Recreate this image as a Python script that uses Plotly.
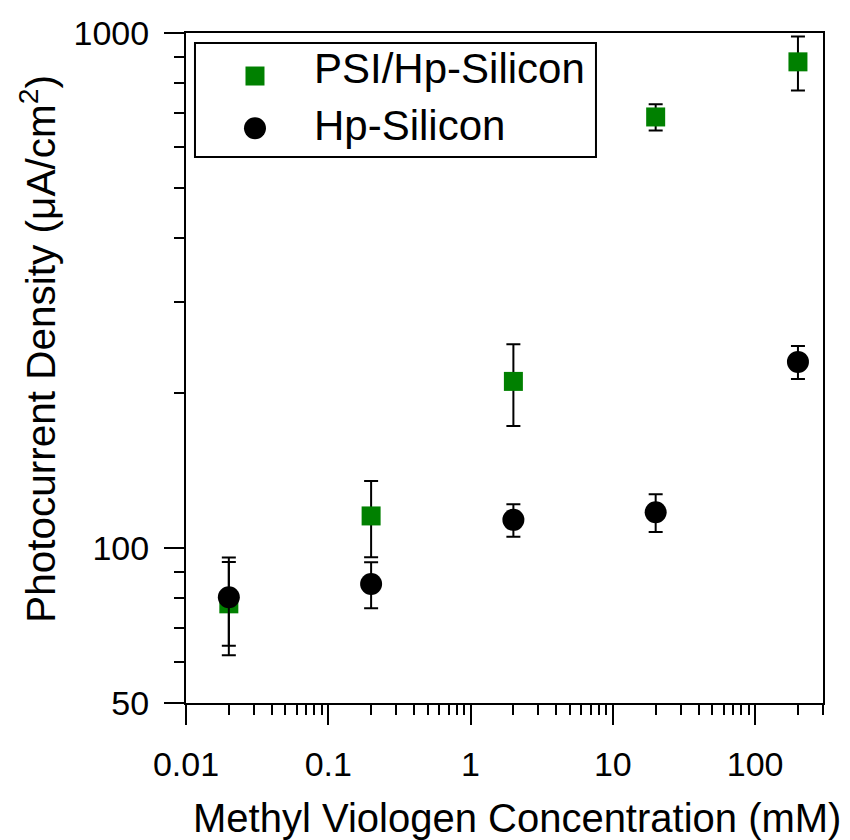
import plotly.graph_objects as go

# Methyl viologen concentration (mM)
concentration = [0.02, 0.2, 2, 20, 200]

# Photocurrent density (uA/cm^2) and standard deviations
psi_current = [77.9, 115.4, 210.6, 687, 879]
psi_error = [16, 19.5, 38, 40, 106]
hp_current = [80.2, 85.1, 113.4, 117.3, 229.8]
hp_error = [15.6, 8.7, 8.2, 9.9, 17]

series_names = ["PSI/Hp-Silicon", "Hp-Silicon"]

x_major = [0.01, 0.1, 1, 10, 100]
x_major_text = ["0.01", "0.1", "1", "10", "100"]
x_minor = [m * d for d in (0.01, 0.1, 1, 10) for m in range(2, 10)] + [200, 300]
y_major = [50, 100, 1000]
y_major_text = ["50", "100", "1000"]
y_minor = [60, 70, 80, 90] + [m * 100 for m in range(2, 10)]

FONT = "Liberation Sans, Arial, sans-serif"
GREEN = "#008000"

fig = go.Figure()

fig.add_trace(go.Scatter(
    x=concentration, y=psi_current, mode="markers", name=series_names[0],
    marker=dict(symbol="square", size=19, color=GREEN),
    error_y=dict(type="data", array=psi_error, color="black", thickness=2, width=7),
    showlegend=False,
))
fig.add_trace(go.Scatter(
    x=concentration, y=hp_current, mode="markers", name=series_names[1],
    marker=dict(symbol="circle", size=22, color="black"),
    error_y=dict(type="data", array=hp_error, color="black", thickness=2, width=7),
    showlegend=False,
))

# Legend keys on an overlay axis spanning the plot area in unit coordinates
fig.add_trace(go.Scatter(
    x=[0.1083], y=[0.9358], mode="markers", xaxis="x2", yaxis="y2",
    marker=dict(symbol="square", size=19, color=GREEN), showlegend=False, hoverinfo="skip",
))
fig.add_trace(go.Scatter(
    x=[0.1083], y=[0.8578], mode="markers", xaxis="x2", yaxis="y2",
    marker=dict(symbol="circle", size=22, color="black"), showlegend=False, hoverinfo="skip",
))

fig.add_shape(type="rect", xref="paper", yref="paper", x0=0.0141, x1=0.6436, y0=0.815, y1=0.985,
              line=dict(color="black", width=2), fillcolor="rgba(0,0,0,0)")
for name, yy in zip(series_names, [0.947, 0.8624]):
    fig.add_annotation(text=name, xref="paper", yref="paper", x=0.198, y=yy,
                       xanchor="left", yanchor="middle", showarrow=False,
                       font=dict(family=FONT, size=42, color="black"))

# Axis titles
fig.add_annotation(text="Methyl Viologen Concentration (mM)", xref="paper", yref="paper",
                   x=0.5204, y=-0.172, xanchor="center", yanchor="middle", showarrow=False,
                   font=dict(family=FONT, size=40, color="black"))
fig.add_annotation(text="Photocurrent Density (\u03bcA/cm<sup>2</sup>)", xref="paper", yref="paper",
                   x=-0.2334, y=0.5291, xanchor="center", yanchor="middle", showarrow=False,
                   textangle=-90, font=dict(family=FONT, size=40.5, color="black"))

axis_common = dict(
    showgrid=False, zeroline=False, showline=True, linecolor="black", linewidth=2,
    mirror=True, ticks="outside", ticklen=20, tickwidth=2, tickcolor="black",
    tickfont=dict(family=FONT, size=34, color="black"),
)

fig.update_layout(
    width=850, height=840,
    margin=dict(l=186, r=27, t=33, b=137),
    paper_bgcolor="white", plot_bgcolor="white",
    xaxis=dict(type="log", range=[-2, 2.4771], tickmode="array", tickvals=x_major,
               ticktext=x_major_text, ticklabelstandoff=10,
               minor=dict(tickmode="array", tickvals=x_minor, ticks="outside", ticklen=10,
                          tickwidth=2, tickcolor="black"),
               **axis_common),
    yaxis=dict(type="log", range=[1.69897, 3], tickmode="array", tickvals=y_major,
               ticktext=y_major_text, ticklabelstandoff=8,
               minor=dict(tickmode="array", tickvals=y_minor, ticks="outside", ticklen=10,
                          tickwidth=2, tickcolor="black"),
               **axis_common),
    xaxis2=dict(overlaying="x", range=[0, 1], visible=False, fixedrange=True),
    yaxis2=dict(overlaying="y", range=[0, 1], visible=False, fixedrange=True),
    showlegend=False,
)

fig.write_html("out.html")
